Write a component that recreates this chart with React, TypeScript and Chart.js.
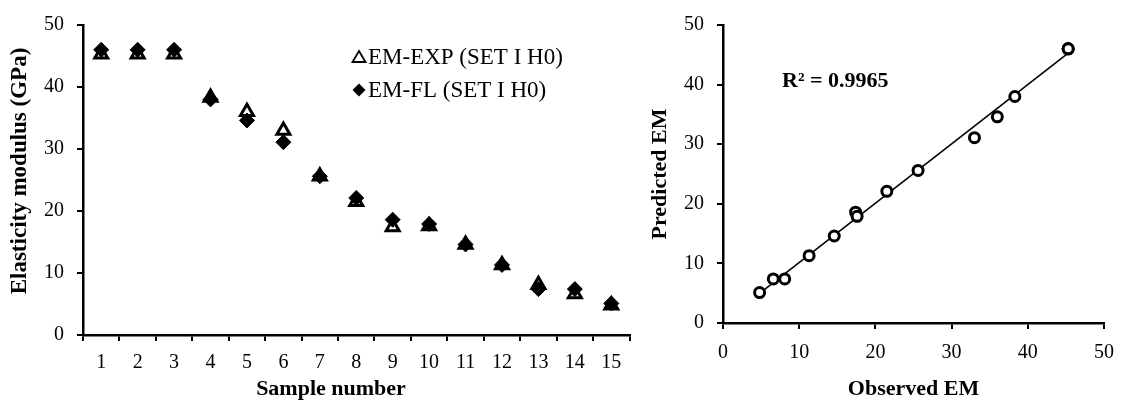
import React, { useEffect, useRef } from 'react';
import { Chart, registerables } from 'chart.js';

Chart.register(...registerables);

// ---- data ----
const SAMPLES = ['1', '2', '3', '4', '5', '6', '7', '8', '9', '10', '11', '12', '13', '14', '15'];
const EM_EXP = [45.3, 45.3, 45.3, 38.3, 36.0, 33.0, 25.6, 21.5, 17.4, 17.6, 14.6, 11.3, 8.1, 6.6, 4.8];
const EM_FL = [46.0, 46.0, 46.0, 38.0, 34.6, 31.1, 25.6, 22.1, 18.6, 17.9, 14.6, 11.3, 7.4, 7.4, 5.1];
const SERIES_LABELS = ['EM-EXP (SET I H0)', 'EM-FL (SET I H0)'];
const LEFT_Y_TITLE = 'Elasticity modulus (GPa)';
const LEFT_X_TITLE = 'Sample number';
const RIGHT_Y_TITLE = 'Predicted EM';
const RIGHT_X_TITLE = 'Observed EM';
const R2_TEXT = 'R\u00B2 = 0.9965';
const AXIS_MIN = 0;
const AXIS_MAX = 50;
const AXIS_STEP = 10;

const SERIF = '"Liberation Serif", "Times New Roman", serif';

function linearFit(xs: number[], ys: number[]) {
  const n = xs.length;
  const mx = xs.reduce((a, b) => a + b, 0) / n;
  const my = ys.reduce((a, b) => a + b, 0) / n;
  let sxy = 0;
  let sxx = 0;
  for (let i = 0; i < n; i++) {
    sxy += (xs[i] - mx) * (ys[i] - my);
    sxx += (xs[i] - mx) * (xs[i] - mx);
  }
  const slope = sxy / sxx;
  return { slope, intercept: my - slope * mx };
}

const GRID = {
  display: true,
  drawOnChartArea: false,
  tickLength: 6,
  color: '#000',
  lineWidth: 2,
};
const BORDER = { display: true, color: '#000', width: 2.5 };
const TICK_FONT = { family: SERIF, size: 20 };

function titleOpt(text: string, isX: boolean, show: boolean) {
  return {
    display: show,
    text,
    color: '#000',
    font: { family: SERIF, size: 22, weight: 'bold', lineHeight: 1 },
    padding: isX ? { top: 0, bottom: 0 } : { top: 9, bottom: 0 },
  };
}

const leftDecorPlugin = {
  id: 'leftDecor',
  afterDraw(chart: any) {
    const ctx = chart.ctx;
    ctx.save();
    const mx = 359;
    const tx = 368;
    const y1 = 57;
    const y2 = 90;
    // legend: triangle marker
    ctx.beginPath();
    ctx.moveTo(mx, y1 - 6);
    ctx.lineTo(mx + 6.5, y1 + 5);
    ctx.lineTo(mx - 6.5, y1 + 5);
    ctx.closePath();
    ctx.lineWidth = 1.8;
    ctx.strokeStyle = '#000';
    ctx.fillStyle = '#fff';
    ctx.fill();
    ctx.stroke();
    // legend: diamond marker
    ctx.beginPath();
    ctx.moveTo(mx, y2 - 6.5);
    ctx.lineTo(mx + 6.5, y2);
    ctx.lineTo(mx, y2 + 6.5);
    ctx.lineTo(mx - 6.5, y2);
    ctx.closePath();
    ctx.fillStyle = '#000';
    ctx.fill();
    ctx.font = `23px ${SERIF}`;
    ctx.fillStyle = '#000';
    ctx.textAlign = 'left';
    ctx.textBaseline = 'middle';
    ctx.fillText(SERIES_LABELS[0], tx, y1 + 1);
    ctx.fillText(SERIES_LABELS[1], tx, y2 + 1);
    // axis titles
    ctx.font = `bold 22px ${SERIF}`;
    ctx.textAlign = 'center';
    ctx.fillText(LEFT_X_TITLE, 331, 389);
    ctx.translate(20, 171);
    ctx.rotate(-Math.PI / 2);
    ctx.font = `bold 23px ${SERIF}`;
    ctx.fillText(LEFT_Y_TITLE, 0, 0);
    ctx.restore();
  },
};

const r2Plugin = {
  id: 'r2Label',
  afterDraw(chart: any) {
    const ctx = chart.ctx;
    ctx.save();
    ctx.font = `bold 22px ${SERIF}`;
    ctx.fillStyle = '#000';
    ctx.textAlign = 'left';
    ctx.textBaseline = 'middle';
    ctx.fillText(R2_TEXT, 142, 81);
    ctx.restore();
  },
};

function LeftChart() {
  const ref = useRef<HTMLCanvasElement>(null);
  useEffect(() => {
    if (!ref.current) return;
    const chart = new Chart(ref.current, {
      type: 'line',
      data: {
        labels: SAMPLES,
        datasets: [
          {
            label: SERIES_LABELS[1],
            data: EM_FL,
            showLine: false,
            pointStyle: 'rectRot',
            pointRadius: 7.5,
            backgroundColor: '#000',
            borderColor: '#000',
            borderWidth: 1,
            order: 0,
          },
          {
            label: SERIES_LABELS[0],
            data: EM_EXP,
            showLine: false,
            pointStyle: 'triangle',
            pointRadius: 7.5,
            backgroundColor: '#fff',
            borderColor: '#000',
            borderWidth: 3,
            order: 1,
          },
        ],
      },
      options: {
        animation: false,
        responsive: false,
        layout: { padding: { top: 22, right: 7, bottom: 0, left: 0 } },
        plugins: { legend: { display: false }, tooltip: { enabled: false } },
        scales: {
          x: {
            type: 'category',
            offset: true,
            grid: { ...GRID, offset: true },
            border: BORDER,
            ticks: { color: '#000', font: TICK_FONT, padding: 10, maxRotation: 0, autoSkip: false },
            title: titleOpt(LEFT_X_TITLE, true, false),
            afterFit: (s: any) => { s.height = 65; },
          },
          y: {
            type: 'linear',
            min: AXIS_MIN,
            max: AXIS_MAX,
            grid: GRID,
            border: BORDER,
            ticks: { stepSize: AXIS_STEP, color: '#000', font: TICK_FONT, padding: 13 },
            title: titleOpt(LEFT_Y_TITLE, false, false),
            afterFit: (s: any) => { s.width = 83; },
          },
        },
      } as any,
      plugins: [leftDecorPlugin],
    });
    return () => chart.destroy();
  }, []);
  return <canvas ref={ref} width={640} height={400} style={{ position: 'absolute', left: 0, top: 0, display: 'block' }} />;
}

function RightChart() {
  const ref = useRef<HTMLCanvasElement>(null);
  useEffect(() => {
    if (!ref.current) return;
    const pts = EM_EXP.map((x, i) => ({ x, y: EM_FL[i] }));
    const fit = linearFit(EM_EXP, EM_FL);
    const xmin = Math.min(...EM_EXP);
    const xmax = Math.max(...EM_EXP);
    const trend = [
      { x: xmin, y: fit.slope * xmin + fit.intercept },
      { x: xmax, y: fit.slope * xmax + fit.intercept },
    ];
    const chart = new Chart(ref.current, {
      type: 'scatter',
      data: {
        datasets: [
          {
            label: 'EM',
            data: pts,
            pointStyle: 'circle',
            pointRadius: 5,
            backgroundColor: '#fff',
            borderColor: '#000',
            borderWidth: 3,
            order: 0,
          },
          {
            label: 'Linear',
            data: trend,
            showLine: true,
            pointRadius: 0,
            borderColor: '#000',
            borderWidth: 1.6,
            order: 1,
          },
        ],
      },
      options: {
        animation: false,
        responsive: false,
        layout: { padding: { top: 24, right: 17, bottom: 0, left: 0 } },
        plugins: { legend: { display: false }, tooltip: { enabled: false } },
        scales: {
          x: {
            type: 'linear',
            min: AXIS_MIN,
            max: AXIS_MAX,
            grid: GRID,
            border: BORDER,
            ticks: { stepSize: AXIS_STEP, color: '#000', font: TICK_FONT, padding: 12, maxRotation: 0 },
            title: titleOpt(RIGHT_X_TITLE, true, true),
            afterFit: (s: any) => { s.height = 77; },
          },
          y: {
            type: 'linear',
            min: AXIS_MIN,
            max: AXIS_MAX,
            grid: GRID,
            border: BORDER,
            ticks: { stepSize: AXIS_STEP, color: '#000', font: TICK_FONT, padding: 13 },
            title: titleOpt(RIGHT_Y_TITLE, false, true),
            afterFit: (s: any) => { s.width = 83; },
          },
        },
      } as any,
      plugins: [r2Plugin],
    });
    return () => chart.destroy();
  }, []);
  return <canvas ref={ref} width={486} height={400} style={{ position: 'absolute', left: 640, top: 0, display: 'block' }} />;
}

export default function App() {
  return (
    <div style={{ position: 'fixed', left: 0, top: 0, width: 1126, height: 400, background: '#fff', overflow: 'hidden' }}>
      <LeftChart />
      <RightChart />
    </div>
  );
}
